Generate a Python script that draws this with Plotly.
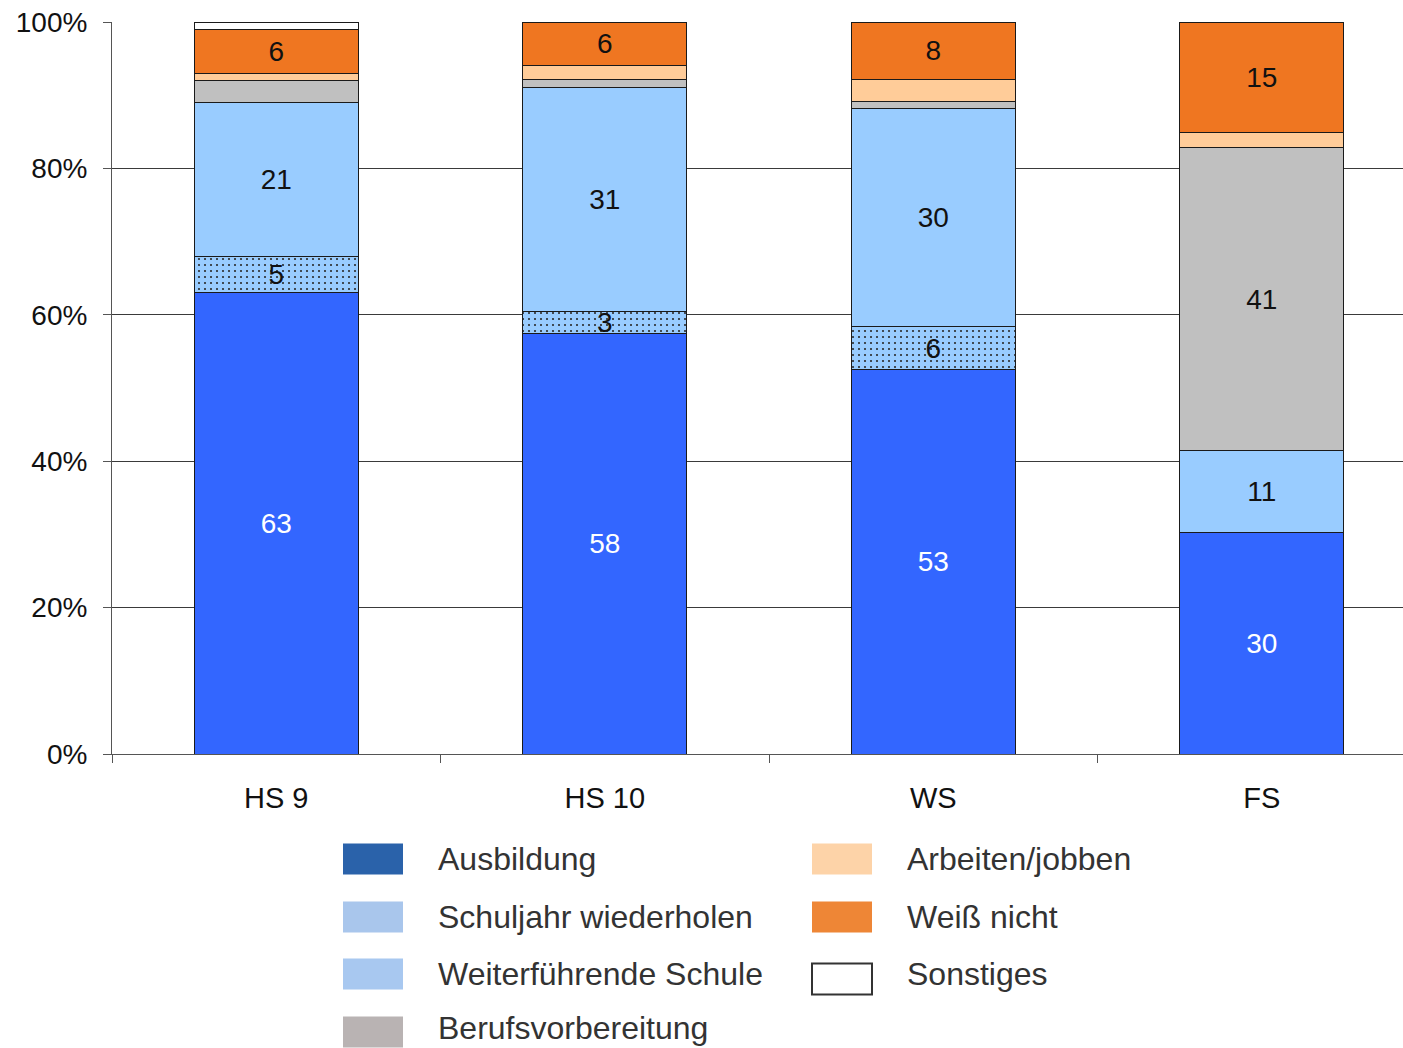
import plotly.graph_objects as go

# Stacked shares per school type (rows normalised to 100 %)
categories = ["HS 9", "HS 10", "WS", "FS"]

ausbildung = [63, 58, 53, 30]
schuljahr_wiederholen = [5, 3, 6, 0]
weiterfuehrende_schule = [21, 31, 30, 11]
berufsvorbereitung = [3, 1, 1, 41]
arbeiten_jobben = [1, 2, 3, 2]
weiss_nicht = [6, 6, 8, 15]
sonstiges = [1, 0, 0, 0]

y_ticks = [0, 20, 40, 60, 80, 100]
y_tick_labels = [f"{v}%" for v in y_ticks]

FONT = "Liberation Sans, Arial, sans-serif"
W, H = 1403, 1048
M_L, M_R, M_T, M_B = 112, 0, 22, 294
PLOT_W = W - M_L - M_R
PLOT_H = H - M_T - M_B


def px_x(x):
    return (x - M_L) / PLOT_W


def px_y(y):
    return (H - M_B - y) / PLOT_H


def labels(values, min_value=0.5):
    return [str(v) if v >= min_value else "" for v in values]


series = [
    # name, values, colour, label threshold, text colour, pattern
    ("Ausbildung", ausbildung, "#3366FF", 0.5, "white", None),
    ("Schuljahr wiederholen", schuljahr_wiederholen, "#99CCFF", 0.5, "#111111",
     dict(shape=".", fgcolor="#2a2a2a", size=6, solidity=0.1)),
    ("Weiterführende Schule", weiterfuehrende_schule, "#99CCFF", 0.5, "#111111", None),
    ("Berufsvorbereitung", berufsvorbereitung, "#C0C0C0", 10, "#111111", None),
    ("Arbeiten/jobben", arbeiten_jobben, "#FFCC99", 100, "#111111", None),
    ("Weiß nicht", weiss_nicht, "#EF7621", 0.5, "#111111", None),
    ("Sonstiges", sonstiges, "#FFFFFF", 100, "#111111", None),
]

fig = go.Figure()
for name, vals, color, thr, tcolor, pattern in series:
    marker = dict(color=color, line=dict(color="#1a1a1a", width=1))
    if pattern:
        marker["pattern"] = dict(fillmode="replace", bgcolor=color, **pattern)
    fig.add_trace(go.Bar(
        name=name,
        x=categories,
        y=vals,
        text=labels(vals, thr),
        textposition="inside",
        insidetextanchor="middle",
        textangle=0,
        textfont=dict(family=FONT, size=28, color=tcolor),
        marker=marker,
        showlegend=False,
        hoverinfo="skip",
    ))

# Legend drawn as swatches + labels in two columns: (text, colour, swatch x, swatch centre y, text centre y)
legend_items = [
    ("Ausbildung", "#2A62AA", 343, 859, 859),
    ("Schuljahr wiederholen", "#A9C6EC", 343, 917, 917),
    ("Weiterführende Schule", "#A8C8F0", 343, 974, 974),
    ("Berufsvorbereitung", "#B9B3B3", 343, 1032, 1028),
    ("Arbeiten/jobben", "#FDD3A8", 812, 859, 859),
    ("Weiß nicht", "#EE8636", 812, 917, 917),
    ("Sonstiges", "#FFFFFF", 812, 979, 974),
]
shapes = []
annotations = []
for text, col, x0, yc, ty in legend_items:
    border = "#333333" if text == "Sonstiges" else col
    shapes.append(dict(
        type="rect", xref="paper", yref="paper",
        x0=px_x(x0), x1=px_x(x0 + 60),
        y0=px_y(yc + 15.5), y1=px_y(yc - 15.5),
        fillcolor=col, line=dict(color=border, width=2 if text == "Sonstiges" else 0),
    ))
    annotations.append(dict(
        xref="paper", yref="paper", x=px_x(x0 + 93), y=px_y(ty),
        text=text, showarrow=False, xanchor="left", yanchor="middle",
        font=dict(family=FONT, size=32, color="#333333"),
    ))

slot = 328.5
fig.update_layout(
    width=W, height=H,
    margin=dict(l=M_L, r=M_R, t=M_T, b=M_B),
    paper_bgcolor="white", plot_bgcolor="white",
    barmode="stack", barnorm="percent",
    bargap=0.5,
    uniformtext=dict(minsize=28, mode="show"),
    font=dict(family=FONT, color="#111111"),
    shapes=shapes,
    annotations=annotations,
    xaxis=dict(
        range=[-0.5, -0.5 + PLOT_W / slot],
        tickson="boundaries", ticks="outside", ticklen=8,
        tickcolor="#555555", tickwidth=1,
        showline=True, linecolor="#555555", linewidth=1,
        showgrid=False,
        tickfont=dict(family=FONT, size=29, color="#111111"),
        ticklabelstandoff=18,
        fixedrange=True,
    ),
    yaxis=dict(
        range=[0, 100],
        tickmode="array", tickvals=y_ticks, ticktext=y_tick_labels,
        ticks="outside", ticklen=8, tickcolor="#555555",
        showline=True, linecolor="#555555", linewidth=1,
        showgrid=True, gridcolor="#3a3a3a", gridwidth=1,
        zeroline=False,
        tickfont=dict(family=FONT, size=28, color="#111111"),
        ticklabelstandoff=10,
        fixedrange=True,
    ),
)

fig.write_html("out.html")
